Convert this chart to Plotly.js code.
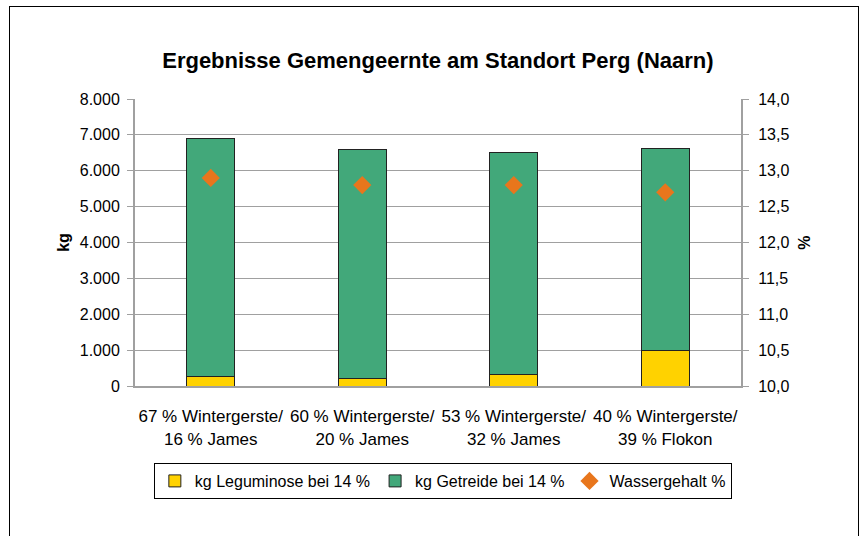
<!DOCTYPE html>
<html>
<head>
<meta charset="utf-8">
<script src="https://cdn.plot.ly/plotly-3.0.1.min.js"></script>
<style>
  html, body { margin: 0; padding: 0; background: #fff; }
  #wrap { position: relative; width: 862px; height: 536px; overflow: hidden; }
  #chart { position: absolute; left: 0; top: 0; width: 862px; height: 536px; }
  #frame { position: absolute; left: 9px; top: 6px; width: 848px; height: 560px; border: 1px solid #000; pointer-events: none; }
</style>
</head>
<body>
<div id="wrap">
  <div id="chart"></div>
  <div id="frame"></div>
</div>
<script>
const categories = [
  "67 % Wintergerste/<br>16 % James",
  "60 % Wintergerste/<br>20 % James",
  "53 % Wintergerste/<br>32 % James",
  "40 % Wintergerste/<br>39 % Flokon"
];
const leguminose = [270, 200, 320, 1000];
const getreide = [6630, 6400, 6180, 5620];
const wassergehalt = [12.9, 12.8, 12.8, 12.7];

const font = "Liberation Sans, Arial, sans-serif";

const traces = [
  {
    type: "bar", name: "kg Leguminose bei 14 %",
    x: categories, y: leguminose, width: 0.32,
    marker: { color: "#FFD200", line: { color: "#222", width: 1 } }
  },
  {
    type: "bar", name: "kg Getreide bei 14 %",
    x: categories, y: getreide, width: 0.32,
    marker: { color: "#42A87A", line: { color: "#222", width: 1 } }
  },
  {
    type: "scatter", mode: "markers", name: "Wassergehalt %",
    x: categories, y: wassergehalt, yaxis: "y2",
    marker: { symbol: "diamond", size: 14, color: "#E8761C" }
  }
];

const layout = {
  width: 862, height: 536,
  margin: { l: 135, r: 121, t: 99, b: 150 },
  paper_bgcolor: "#fff", plot_bgcolor: "#fff",
  separators: ",.",
  barmode: "stack",
  showlegend: true,
  font: { family: font, size: 16, color: "#000" },
  title: {
    text: "<b>Ergebnisse Gemengeernte am Standort Perg (Naarn)</b>",
    font: { family: font, size: 22, color: "#000" },
    x: 0.508, xanchor: "center", y: 0.888, yanchor: "middle"
  },
  xaxis: {
    type: "category",
    showline: true, linecolor: "#a0a0a0", linewidth: 2,
    ticks: "", showgrid: false,
    ticklabelstandoff: 14,
    tickfont: { family: font, size: 17, color: "#000" },
    mirror: false
  },
  yaxis: {
    range: [0, 8000], dtick: 1000, tickformat: ",d",
    showline: true, linecolor: "#a0a0a0", linewidth: 2,
    ticks: "outside", ticklen: 6, tickcolor: "#a0a0a0",
    ticklabelstandoff: 4,
    showgrid: true, gridcolor: "#a0a0a0", gridwidth: 1,
    zeroline: false,
    tickfont: { family: font, size: 16, color: "#000" },
    title: { text: "<b>kg</b>", font: { family: font, size: 16, color: "#000" }, standoff: 6 }
  },
  yaxis2: {
    overlaying: "y", side: "right",
    range: [10, 14], dtick: 0.5, tickformat: ".1f",
    showline: true, linecolor: "#a0a0a0", linewidth: 2,
    ticks: "outside", ticklen: 6, tickcolor: "#a0a0a0",
    ticklabelstandoff: 6,
    showgrid: false, zeroline: false,
    tickfont: { family: font, size: 16, color: "#000" },
    title: { text: "<b>%</b>", font: { family: font, size: 16, color: "#000" }, standoff: 10 }
  },
  legend: {
    orientation: "h",
    x: 0.508, xanchor: "center",
    y: -0.331, yanchor: "middle",
    bordercolor: "#000", borderwidth: 1,
    font: { family: font, size: 16, color: "#000" },
    traceorder: "normal",
    itemwidth: 30,
    tracegroupgap: 0
  }
};

Plotly.newPlot("chart", traces, layout, { displayModeBar: false, staticPlot: true });
</script>
</body>
</html>
